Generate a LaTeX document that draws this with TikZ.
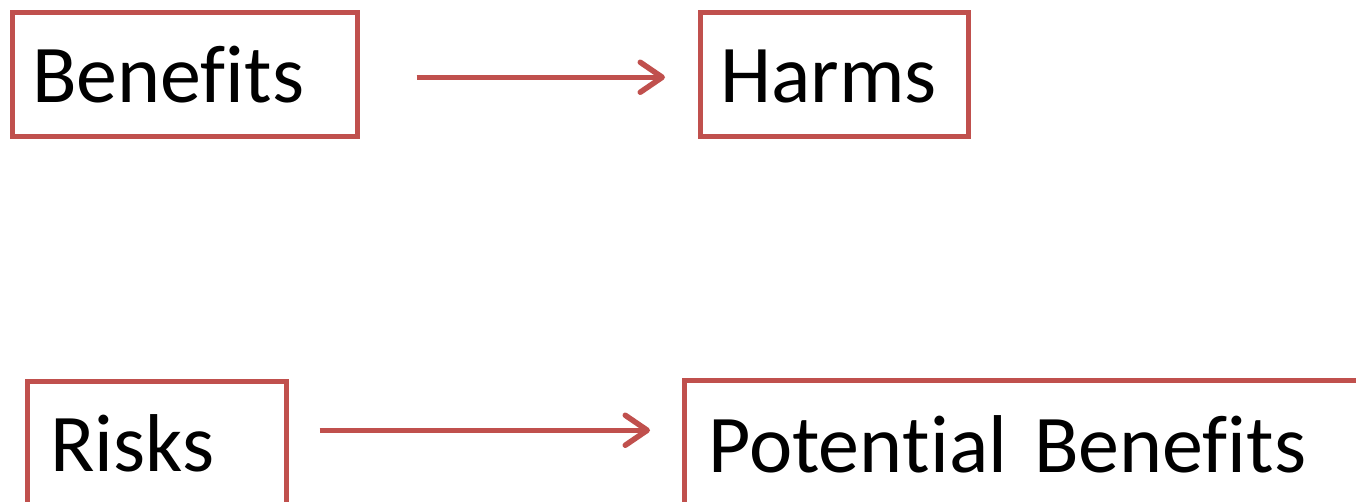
\documentclass[tikz,border=0pt]{standalone}
\usepackage{fontspec}
\setmainfont{Carlito}[RawFeature={-liga;-clig;-dlig;-calt;-rlig}]
\usetikzlibrary{arrows.meta}
\definecolor{accred}{HTML}{C0504D}
\tikzset{
  box/.style={draw=accred, line width=4.5pt, anchor=north west, align=left,
    inner ysep=0pt, text height=90pt, text depth=34pt,
    font=\fontsize{82}{98}\selectfont, text=black},
  arr/.style={draw=accred, line width=5.5pt,
    -{Straight Barb[length=22pt,width=30pt,round]}}
}
\begin{document}
\begin{tikzpicture}[x=1pt,y=-1pt]
\useasboundingbox (0,0) rectangle (1356,501);
\clip (0,0) rectangle (1356,501);
\node[box, inner xsep=20pt, text width=305pt] (ben) at (10,10) {Benef\kern0pt its};
\node[box, inner xsep=20pt, text width=228pt] (harm) at (698,10) {Harms};
\node[box, inner xsep=23pt, text width=213pt] (risk) at (25,379) {Risks};
\node[box, inner xsep=24pt, text width=666pt, text height=92pt] (pot) at (682,378) {Poten\kern0pt tial Benef\kern0pt its};
\draw[arr, shorten <=57pt, shorten >=33pt] ([yshift=-3pt]ben.east) -- ([yshift=-3pt]harm.west);
\draw[arr, shorten <=31pt, shorten >=32pt] ([yshift=13pt]risk.east) -- ([yshift=13pt]risk.east -| pot.west);
\end{tikzpicture}
\end{document}
